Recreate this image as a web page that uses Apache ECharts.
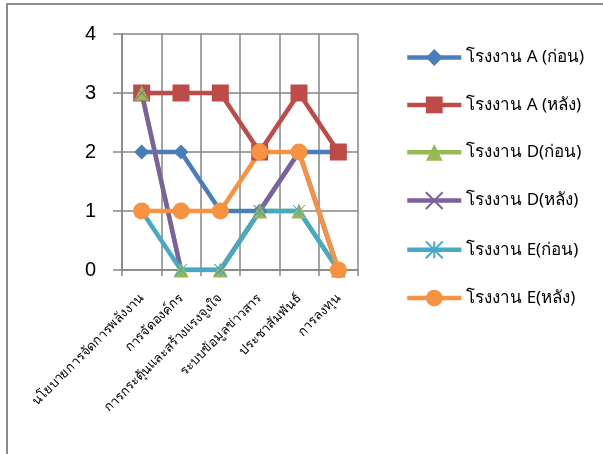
<!DOCTYPE html>
<html>
<head>
<meta charset="utf-8">
<script src="https://cdn.jsdelivr.net/npm/echarts@6/dist/echarts.min.js"></script>
<style>
html,body{margin:0;padding:0;background:#fff;}
#frame{position:absolute;left:6px;top:3px;width:620px;height:470px;border-left:2px solid #8c8c8c;border-top:2px solid #8c8c8c;}
#chart{position:absolute;left:0;top:0;width:603px;height:454px;}
</style>
</head>
<body>
<div id="frame"></div>
<div id="chart"></div>
<script>
const categories = ["นโยบายการจัดการพลังงาน", "การจัดองค์กร", "การกระตุ้นและสร้างแรงจูงใจ", "ระบบข้อมูลข่าวสาร", "ประชาสัมพันธ์", "การลงทุน"];
const seriesNames = ["โรงงาน A (ก่อน)", "โรงงาน A (หลัง)", "โรงงาน D(ก่อน)", "โรงงาน D(หลัง)", "โรงงาน E(ก่อน)", "โรงงาน E(หลัง)"];
const factoryA_before = [2, 2, 1, 1, 2, 2];
const factoryA_after = [3, 3, 3, 2, 3, 2];
const factoryD_before = [3, 0, 0, 1, 1, 0];
const factoryD_after = [3, 0, 0, 1, 2, 0];
const factoryE_before = [1, 0, 0, 1, 1, 0];
const factoryE_after = [1, 1, 1, 2, 2, 0];
const yTicks = [0, 1, 2, 3, 4];

const colors = ["#4A7EBB", "#BE4B48", "#98B954", "#7D60A0", "#46AAC5", "#F69240"];
const symbols = [
  "diamond",
  "rect",
  "triangle",
  "path://M0,0 L10,10 M10,0 L0,10",
  "path://M0,0 L10,10 M10,0 L0,10 M5,0 L5,10",
  "circle"
];
const sizes = [15, 17, 15, 12, 12, 17];
const values = [factoryA_before, factoryA_after, factoryD_before, factoryD_after, factoryE_before, factoryE_after];

const series = seriesNames.map((name, i) => {
  const thin = i === 3 || i === 4;
  return {
    name: name,
    type: "line",
    data: values[i],
    symbol: symbols[i],
    symbolSize: sizes[i],
    showAllSymbol: true,
    color: colors[i],
    lineStyle: { width: 4.5, color: colors[i] },
    itemStyle: thin ? { color: colors[i], borderColor: colors[i], borderWidth: 1 } : { color: colors[i] },
    emphasis: { disabled: true },
    animation: false
  };
});

const chart = echarts.init(document.getElementById("chart"), null, { renderer: "canvas" });
chart.setOption({
  backgroundColor: "transparent",
  animation: false,
  grid: { left: 122, right: 245, top: 34, bottom: 184, containLabel: false },
  legend: {
    orient: "vertical",
    left: 400,
    top: 44,
    itemGap: 30.4,
    itemWidth: 54,
    itemHeight: 21,
    data: seriesNames,
    lineStyle: { width: 4.5 },
    textStyle: { fontSize: 17, color: "#000", fontFamily: "Noto Sans, DejaVu Sans, sans-serif" },
    selectedMode: false
  },
  xAxis: {
    type: "category",
    data: categories,
    boundaryGap: true,
    axisLine: { lineStyle: { color: "#868686", width: 1.5 } },
    axisTick: { show: true, length: 6, alignWithLabel: false, lineStyle: { color: "#868686", width: 1.5 } },
    splitLine: { show: true, lineStyle: { color: "#868686", width: 1.5 } },
    axisLabel: { rotate: 45, fontSize: 13, color: "#000", margin: 26, interval: 0, fontFamily: "Noto Sans, DejaVu Sans, sans-serif" }
  },
  yAxis: {
    type: "value",
    min: 0,
    max: 4,
    interval: 1,
    axisLine: { show: true, lineStyle: { color: "#868686", width: 1.5 } },
    axisTick: { show: true, length: 9, lineStyle: { color: "#868686", width: 1.5 } },
    splitLine: { show: true, lineStyle: { color: "#868686", width: 1.5 } },
    axisLabel: { fontSize: 20, color: "#000", margin: 26, fontFamily: "Liberation Sans, sans-serif",
      formatter: v => yTicks.includes(v) ? String(v) : "" }
  },
  series: series
});
</script>
</body>
</html>
